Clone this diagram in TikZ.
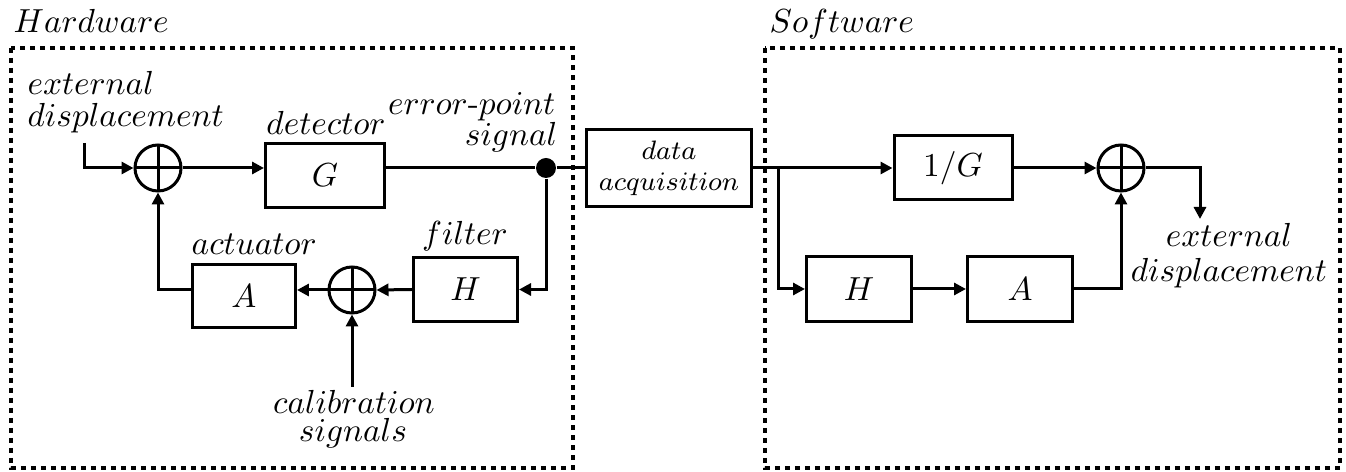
\documentclass[tikz,border=0pt]{standalone}
\usetikzlibrary{arrows.meta}
\begin{document}
\begin{tikzpicture}[x=0.3pt,y=-0.3pt,
  blk/.style={draw,line width=0.9pt,inner sep=0pt,minimum width=#1},
  blk/.default=31.5pt,
  sumnode/.style={draw,circle,line width=0.9pt,minimum size=13.8pt,inner sep=0pt,
    path picture={\draw[line width=0.9pt] (path picture bounding box.north) -- (path picture bounding box.south)
      (path picture bounding box.west) -- (path picture bounding box.east);}},
  sig/.style={line width=0.9pt,-{Triangle[length=3.6pt,width=3.6pt]}},
  wire/.style={line width=0.9pt},
  lbl/.style={inner sep=0pt,anchor=base},
  lblw/.style={inner sep=0pt,anchor=base west},
  lble/.style={inner sep=0pt,anchor=base east},
  region/.style={line width=1.2pt,dash pattern=on 1.4pt off 1.6pt}]
\useasboundingbox (0,0) rectangle (1346,472);
% regions
\draw[region] (11,48) rectangle (573,468);
\draw[region] (765,48) rectangle (1340,468);
\node[lblw] (hwlbl) at (13,33) {$Hardware$};
\node[lblw] (swlbl) at (769,33) {$Software$};
% hardware blocks
\node[sumnode] (s1) at (158,168) {};
\node[blk=35.7pt,minimum height=19.2pt] (G) at (325,175.5) {$G$};
\node[circle,fill,inner sep=0pt,minimum size=6pt] (dot) at (546,168) {};
\node[sumnode] (s2) at (352,290) {};
\node[blk=30.9pt,minimum height=18.9pt] (Ahw) at (244,296) {$A$};
\node[blk=31.2pt,minimum height=19.2pt] (Hhw) at (465.5,289.5) {$H$};
\node[blk=49.5pt,minimum height=23.1pt,align=center,font=\fontsize{8.3}{9.3}\selectfont] (dacq) at (669,168) {$data$\\$acquisition$};
% software blocks
\node[blk=35.4pt,minimum height=19.2pt] (invG) at (953,168) {$1/G$};
\node[sumnode] (s3) at (1121,168) {};
\node[blk=31.5pt,minimum height=19.5pt] (Hsw) at (859,289) {$H$};
\node[blk=31.5pt,minimum height=19.5pt] (Asw) at (1020,289) {$A$};
% coordinates
\coordinate (in1) at (84,143);
\coordinate (cal) at (352,387);
\coordinate (br) at (778,168);
\coordinate (out) at (1200,219);
% labels
\node[lblw] (ext1) at (27,95) {$external$};
\node[lblw] (ext2) at (27,127) {$displacement$};
\node[lbl] (detl) at (326,135) {$detector$};
\node[lble] (errl) at (556,115) {$error$-$point$};
\node[lble] (sigl) at (558,146) {$signal$};
\node[lblw] (actl) at (191,255) {$actuator$};
\node[lbl] (filtl) at (465,245) {$filter$};
\node[lbl] (call) at (354,414) {$calibration$};
\node[lbl] (cal2) at (353,442) {$signals$};
\node[lbl] (ext3) at (1229,247) {$external$};
\node[lbl] (ext4) at (1229,282) {$displacement$};
% connectors
\draw[sig] (in1) |- (s1.west);
\draw[sig] (s1.east) -- (s1 -| G.west);
\draw[wire] (s1 -| G.east) -- (dot) -- (dacq.west);
\draw[sig] (dot) |- (Hhw.east);
\draw[sig] (Hhw.west) -- (s2.east);
\draw[sig] (s2.west) -- (s2 -| Ahw.east);
\draw[sig] (s2 -| Ahw.west) -| (s1.south);
\draw[sig] (cal) -- (s2.south);
\draw[sig] (dacq.east) -- (invG.west);
\draw[sig] (br) |- (Hsw.west);
\draw[sig] (Hsw.east) -- (Asw.west);
\draw[sig] (invG.east) -- (s3.west);
\draw[sig] (Asw.east) -| (s3.south);
\draw[sig] (s3.east) -| (out);
\end{tikzpicture}
\end{document}
